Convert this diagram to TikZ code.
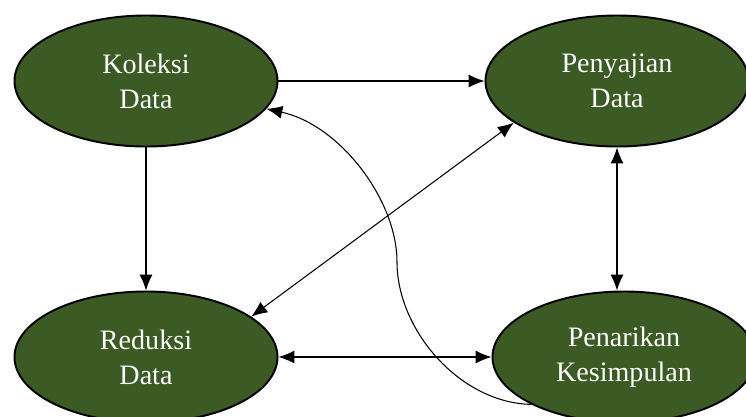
\documentclass[tikz,border=0pt]{standalone}
\usepackage{fontspec}
\setmainfont{Liberation Serif}
\usetikzlibrary{arrows.meta,shapes.geometric,positioning}
\definecolor{stagegreen}{HTML}{3B5A24}
\tikzstyle{stage} = [ellipse, draw, line width=1.1pt, fill=stagegreen, text=white, align=center, minimum width=52.6mm, minimum height=26.2mm, inner sep=0pt, font=\fontsize{16}{20}\selectfont]
\tikzstyle{flow} = [line width=0.6pt]

\begin{document}
\begin{tikzpicture}[x=0.2mm, y=-0.2mm, >={Latex[length=3.2mm,width=2.6mm]}]
   \useasboundingbox (0,0) rectangle (746,416);
   \node (Koleksi) at (146, 81) [stage] {Koleksi\\Data};
   \node (Penyajian) at (617, 81) [stage] {Penyajian\\Data} edge[flow, <-] (Koleksi);
   \node (Reduksi) at (146, 357) [stage] {Reduksi\\Data} edge[flow, <-] (Koleksi);
   \node (Penarikan) at (624, 357) [stage] {Penarikan\\Kesimpulan} edge[flow, <->] (Reduksi);

   \draw[flow, <->] (Penyajian.south) -- (Penyajian.south |- Penarikan.north);
   \draw[flow, <->] (Reduksi.21) -- (Penyajian.202);

   % feedback from the conclusion back to the collection
   \coordinate (Turn) at (397, 262);
   \draw[flow, ->] (Penarikan.207) .. controls (460, 403) and (397, 330) .. (Turn)
      .. controls (397, 200) and (340, 125) .. (Koleksi.-13);
\end{tikzpicture}
\end{document}
